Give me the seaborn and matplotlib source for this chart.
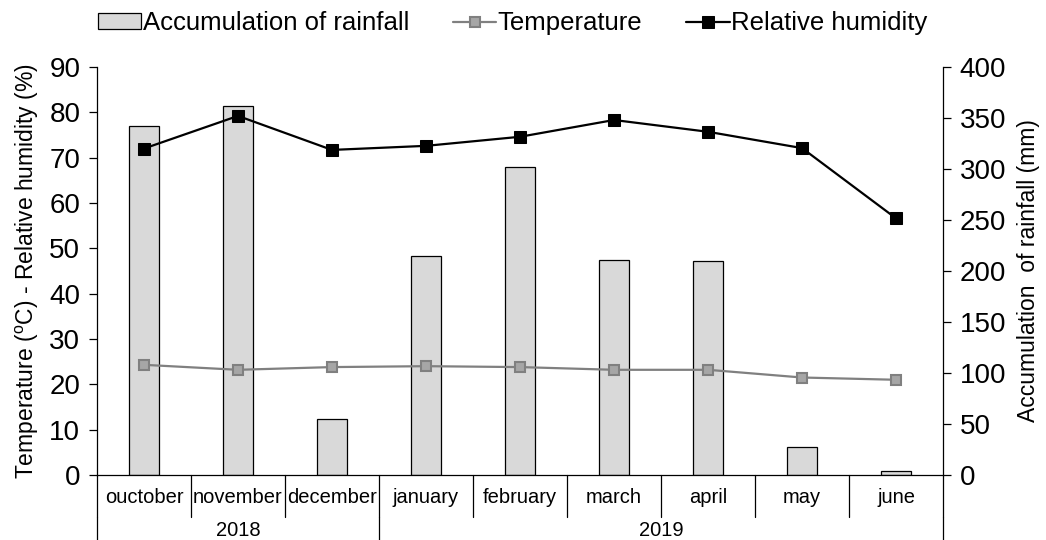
import numpy as np
import pandas as pd
import matplotlib
matplotlib.use("Agg")
import matplotlib.pyplot as plt
from matplotlib.lines import Line2D
import seaborn as sns

# Monthly climate record, October 2018 - June 2019
months = ["ouctober", "november", "december", "january", "february",
          "march", "april", "may", "june"]
years = ["2018", "2019"]
months_per_year = [3, 6]
rainfall_mm = [342, 362, 55, 215, 302, 211, 210, 27, 4]
temperature_c = [24.3, 23.2, 23.8, 24.0, 23.8, 23.2, 23.2, 21.5, 21.0]
humidity_pct = [72.0, 79.2, 71.7, 72.6, 74.6, 78.3, 75.7, 72.1, 56.6]
left_ticks = list(range(0, 91, 10))
right_ticks = list(range(0, 401, 50))

df = pd.DataFrame({
    "month": months,
    "pos": np.arange(len(months)),
    "rain": rainfall_mm,
    "temp": temperature_c,
    "hum": humidity_pct,
})

sns.set_style("white")
plt.rcParams["font.family"] = ["Liberation Sans", "DejaVu Sans"]
plt.rcParams["mathtext.fontset"] = "custom"
plt.rcParams["mathtext.rm"] = "Liberation Sans"
for key in ("text.color", "axes.labelcolor", "xtick.color", "ytick.color",
            "xtick.labelcolor", "ytick.labelcolor"):
    plt.rcParams[key] = "black"

fig = plt.figure(figsize=(10.46, 5.40), dpi=100)
ax = fig.add_axes([0.0927, 0.1204, 0.8089, 0.7556])
ax2 = ax.twinx()

# Rainfall bars on the right-hand axis
sns.barplot(data=df, x="month", y="rain", order=months, ax=ax2,
            color="#d9d9d9", saturation=1, width=0.32,
            edgecolor="black", linewidth=0.9,
            label="Accumulation of rainfall")

# Temperature and humidity lines on the left-hand axis
sns.lineplot(data=df, x="pos", y="temp", ax=ax, color="#808080",
             linewidth=1.6, marker="s", markersize=7,
             markerfacecolor="#a6a6a6", markeredgecolor="#808080",
             markeredgewidth=1.5, label="Temperature")
sns.lineplot(data=df, x="pos", y="hum", ax=ax, color="black",
             linewidth=1.6, marker="s", markersize=8.5,
             markerfacecolor="black", markeredgecolor="black",
             label="Relative humidity")

# Lines above the bars
ax.set_zorder(ax2.get_zorder() + 1)
ax.patch.set_visible(False)

for a in (ax, ax2):
    leg = a.get_legend()
    if leg is not None:
        leg.remove()

ax.set_xlim(-0.5, len(months) - 0.5)
ax.set_ylim(0, 90)
ax2.set_ylim(0, 400)
ax.set_yticks(left_ticks)
ax2.set_yticks(right_ticks)

ax.set_xticks([])
ax2.set_xticks([])
ax.set_xlabel("")
ax2.set_xlabel("")

ax.set_ylabel(r"Temperature ($\mathregular{^o}$C) - Relative humidity (%)",
              fontsize=16.5, labelpad=6, color="black")
ax2.set_ylabel("Accumulation  of rainfall (mm)", fontsize=16.5, labelpad=8,
               color="black")

for a in (ax, ax2):
    for s in a.spines.values():
        s.set_color("black")
        s.set_linewidth(0.9)
    a.spines["top"].set_visible(False)
ax.spines["right"].set_visible(False)
ax2.spines["left"].set_visible(False)
ax2.spines["bottom"].set_visible(False)

ax.tick_params(axis="y", direction="out", length=6, width=0.9,
               labelsize=20, color="black", labelcolor="black", pad=6,
               left=True)
ax2.tick_params(axis="y", direction="out", length=6, width=0.9,
                labelsize=20, color="black", labelcolor="black", pad=6,
                right=True)

# Two-level category axis: month boxes and year groups
month_row = -0.103
year_row = -0.159
line_kw = dict(color="black", linewidth=0.9, clip_on=False,
               transform=ax.get_xaxis_transform())
for i in range(len(months) + 1):
    x = i - 0.5
    ax.add_line(Line2D([x, x], [0, month_row], **line_kw))
edges = np.concatenate([[0], np.cumsum(months_per_year)]) - 0.5
for x in edges:
    ax.add_line(Line2D([x, x], [month_row, year_row], **line_kw))

for i, m in enumerate(months):
    ax.text(i, -0.054, m, transform=ax.get_xaxis_transform(),
            ha="center", va="center", fontsize=14.5, color="black")
for y, lo, hi in zip(years, edges[:-1], edges[1:]):
    ax.text((lo + hi) / 2, -0.137, y, transform=ax.get_xaxis_transform(),
            ha="center", va="center", fontsize=14.5, color="black")

# Combined legend across the top
h2, l2 = ax2.get_legend_handles_labels()
h1, l1 = ax.get_legend_handles_labels()
fig.legend(h2 + h1, l2 + l1, loc="center", bbox_to_anchor=(0.49, 0.957),
           ncol=3, frameon=False, fontsize=18.5, handlelength=1.7,
           handletextpad=0.05, columnspacing=1.7, handleheight=0.6,
           labelcolor="black")

fig.savefig("out.png", dpi=100)
